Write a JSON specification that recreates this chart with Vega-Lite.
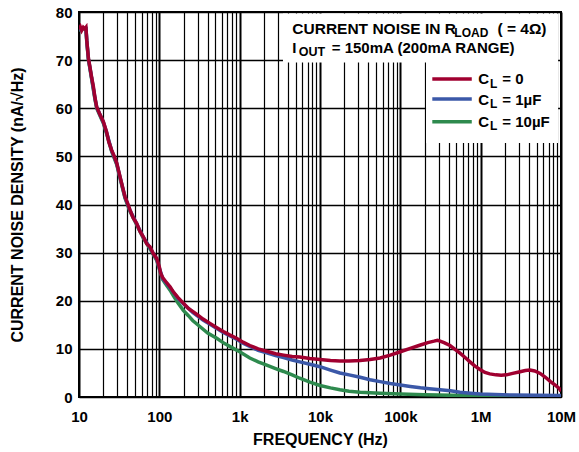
{
  "$schema": "https://vega.github.io/schema/vega-lite/v6.json",
  "width": 482,
  "height": 385,
  "autosize": {"type": "none"},
  "padding": {"left": 79, "top": 12, "right": 18, "bottom": 55},
  "background": "white",
  "config": {
    "view": {"stroke": "black", "strokeWidth": 2},
    "font": "Liberation Sans",
    "text": {"font": "Liberation Sans", "fontWeight": "bold", "color": "black"},
    "axis": {"labelFont": "Liberation Sans", "titleFont": "Liberation Sans", "labelFontWeight": "bold", "titleFontWeight": "bold", "labelColor": "black", "titleColor": "black"}
  },
  "data": {
    "values": [
      {"series": "10uF", "f": 10, "v": 76.2}, {"series": "10uF", "f": 11.3, "v": 76.5}, {"series": "10uF", "f": 12.2, "v": 76.5}, {"series": "10uF", "f": 12.5, "v": 73.8},
      {"series": "10uF", "f": 13.1, "v": 70.1}, {"series": "10uF", "f": 14.4, "v": 66.0}, {"series": "10uF", "f": 15.8, "v": 61.9}, {"series": "10uF", "f": 16.6, "v": 60.0},
      {"series": "10uF", "f": 20.1, "v": 56.9}, {"series": "10uF", "f": 22.1, "v": 54.7}, {"series": "10uF", "f": 25.5, "v": 51.0}, {"series": "10uF", "f": 29.5, "v": 48.3},
      {"series": "10uF", "f": 32.4, "v": 45.5}, {"series": "10uF", "f": 37.4, "v": 41.3}, {"series": "10uF", "f": 43.1, "v": 38.6}, {"series": "10uF", "f": 52.2, "v": 35.8},
      {"series": "10uF", "f": 63.2, "v": 33.0}, {"series": "10uF", "f": 76.5, "v": 30.8}, {"series": "10uF", "f": 92.7, "v": 28.4}, {"series": "10uF", "f": 100, "v": 26.6},
      {"series": "10uF", "f": 110, "v": 24.4}, {"series": "10uF", "f": 120, "v": 23.5}, {"series": "10uF", "f": 136, "v": 22.2}, {"series": "10uF", "f": 150, "v": 21.0},
      {"series": "10uF", "f": 170, "v": 19.6}, {"series": "10uF", "f": 199, "v": 18.0}, {"series": "10uF", "f": 230, "v": 16.9}, {"series": "10uF", "f": 260, "v": 15.9},
      {"series": "10uF", "f": 322, "v": 14.6}, {"series": "10uF", "f": 400, "v": 13.3}, {"series": "10uF", "f": 518, "v": 12.2}, {"series": "10uF", "f": 650, "v": 11.1},
      {"series": "10uF", "f": 833, "v": 10.1}, {"series": "10uF", "f": 1000, "v": 9.4}, {"series": "10uF", "f": 1338, "v": 8.1}, {"series": "10uF", "f": 1700, "v": 7.3},
      {"series": "10uF", "f": 2170, "v": 6.6}, {"series": "10uF", "f": 2800, "v": 5.9}, {"series": "10uF", "f": 3520, "v": 5.3}, {"series": "10uF", "f": 4500, "v": 4.6},
      {"series": "10uF", "f": 5600, "v": 3.9}, {"series": "10uF", "f": 7500, "v": 3.1}, {"series": "10uF", "f": 10000, "v": 2.4}, {"series": "10uF", "f": 13500, "v": 1.9},
      {"series": "10uF", "f": 17700, "v": 1.5}, {"series": "10uF", "f": 23000, "v": 1.2}, {"series": "10uF", "f": 31600, "v": 1.0}, {"series": "10uF", "f": 56000, "v": 0.8},
      {"series": "10uF", "f": 100000, "v": 0.6}, {"series": "10uF", "f": 200000, "v": 0.45}, {"series": "10uF", "f": 430000, "v": 0.35}, {"series": "10uF", "f": 1000000, "v": 0.25},
      {"series": "10uF", "f": 3000000, "v": 0.2}, {"series": "10uF", "f": 10000000, "v": 0.2},

      {"series": "1uF", "f": 10, "v": 76.3}, {"series": "1uF", "f": 11.3, "v": 76.6}, {"series": "1uF", "f": 12.2, "v": 76.6}, {"series": "1uF", "f": 12.5, "v": 74.0},
      {"series": "1uF", "f": 13.1, "v": 70.3}, {"series": "1uF", "f": 14.4, "v": 66.2}, {"series": "1uF", "f": 15.8, "v": 62.1}, {"series": "1uF", "f": 16.6, "v": 60.2},
      {"series": "1uF", "f": 20.1, "v": 57.1}, {"series": "1uF", "f": 22.1, "v": 54.9}, {"series": "1uF", "f": 25.5, "v": 51.2}, {"series": "1uF", "f": 29.5, "v": 48.5},
      {"series": "1uF", "f": 32.4, "v": 45.7}, {"series": "1uF", "f": 37.4, "v": 41.5}, {"series": "1uF", "f": 43.1, "v": 38.8}, {"series": "1uF", "f": 52.2, "v": 36.0},
      {"series": "1uF", "f": 63.2, "v": 33.2}, {"series": "1uF", "f": 76.5, "v": 31.0}, {"series": "1uF", "f": 92.7, "v": 28.6}, {"series": "1uF", "f": 100, "v": 26.8},
      {"series": "1uF", "f": 110, "v": 24.6}, {"series": "1uF", "f": 136, "v": 22.7}, {"series": "1uF", "f": 170, "v": 20.5}, {"series": "1uF", "f": 199, "v": 19.4},
      {"series": "1uF", "f": 260, "v": 17.6}, {"series": "1uF", "f": 350, "v": 16.0}, {"series": "1uF", "f": 427, "v": 15.1}, {"series": "1uF", "f": 625, "v": 13.4},
      {"series": "1uF", "f": 914, "v": 12.0}, {"series": "1uF", "f": 1100, "v": 11.2}, {"series": "1uF", "f": 1338, "v": 10.5}, {"series": "1uF", "f": 1700, "v": 9.7},
      {"series": "1uF", "f": 2170, "v": 9.2}, {"series": "1uF", "f": 2800, "v": 8.6}, {"series": "1uF", "f": 3520, "v": 8.2}, {"series": "1uF", "f": 4500, "v": 7.7},
      {"series": "1uF", "f": 5600, "v": 7.3}, {"series": "1uF", "f": 7500, "v": 6.8}, {"series": "1uF", "f": 10000, "v": 6.3}, {"series": "1uF", "f": 13500, "v": 5.6},
      {"series": "1uF", "f": 17700, "v": 5.0}, {"series": "1uF", "f": 23000, "v": 4.6}, {"series": "1uF", "f": 31600, "v": 4.1}, {"series": "1uF", "f": 42000, "v": 3.6},
      {"series": "1uF", "f": 56000, "v": 3.2}, {"series": "1uF", "f": 75000, "v": 2.8}, {"series": "1uF", "f": 100000, "v": 2.5}, {"series": "1uF", "f": 133000, "v": 2.2},
      {"series": "1uF", "f": 178000, "v": 1.9}, {"series": "1uF", "f": 230000, "v": 1.7}, {"series": "1uF", "f": 312000, "v": 1.5}, {"series": "1uF", "f": 420000, "v": 1.3},
      {"series": "1uF", "f": 553000, "v": 1.0}, {"series": "1uF", "f": 750000, "v": 0.8}, {"series": "1uF", "f": 980000, "v": 0.6}, {"series": "1uF", "f": 1500000, "v": 0.5},
      {"series": "1uF", "f": 2500000, "v": 0.4}, {"series": "1uF", "f": 5000000, "v": 0.35}, {"series": "1uF", "f": 10000000, "v": 0.3},

      {"series": "0", "f": 10, "v": 76.4}, {"series": "0", "f": 10.4, "v": 76.9}, {"series": "0", "f": 10.8, "v": 76.2}, {"series": "0", "f": 11.3, "v": 76.8},
      {"series": "0", "f": 11.8, "v": 76.5}, {"series": "0", "f": 12.2, "v": 76.8}, {"series": "0", "f": 12.5, "v": 74.1}, {"series": "0", "f": 13.1, "v": 70.4},
      {"series": "0", "f": 13.7, "v": 68.5}, {"series": "0", "f": 14.4, "v": 66.3}, {"series": "0", "f": 15.1, "v": 64.5}, {"series": "0", "f": 15.8, "v": 62.2},
      {"series": "0", "f": 16.6, "v": 60.3}, {"series": "0", "f": 18, "v": 58.9}, {"series": "0", "f": 20.1, "v": 57.2}, {"series": "0", "f": 22.1, "v": 55.0},
      {"series": "0", "f": 23.5, "v": 53.0}, {"series": "0", "f": 25.5, "v": 51.3}, {"series": "0", "f": 27.5, "v": 50.0}, {"series": "0", "f": 29.5, "v": 48.6},
      {"series": "0", "f": 32.4, "v": 45.8}, {"series": "0", "f": 35, "v": 43.5}, {"series": "0", "f": 37.4, "v": 41.6}, {"series": "0", "f": 40, "v": 40.4},
      {"series": "0", "f": 43.1, "v": 38.9}, {"series": "0", "f": 47, "v": 37.3}, {"series": "0", "f": 52.2, "v": 36.1}, {"series": "0", "f": 57, "v": 34.5},
      {"series": "0", "f": 63.2, "v": 33.3}, {"series": "0", "f": 70, "v": 31.8}, {"series": "0", "f": 76.5, "v": 31.2}, {"series": "0", "f": 84, "v": 29.8},
      {"series": "0", "f": 92.7, "v": 28.8}, {"series": "0", "f": 100, "v": 27.0}, {"series": "0", "f": 104, "v": 25.7}, {"series": "0", "f": 110, "v": 24.8},
      {"series": "0", "f": 120, "v": 24.0}, {"series": "0", "f": 136, "v": 22.9}, {"series": "0", "f": 150, "v": 21.8}, {"series": "0", "f": 170, "v": 20.7},
      {"series": "0", "f": 199, "v": 19.5}, {"series": "0", "f": 230, "v": 18.4}, {"series": "0", "f": 260, "v": 17.8}, {"series": "0", "f": 291, "v": 17.2},
      {"series": "0", "f": 350, "v": 16.2}, {"series": "0", "f": 427, "v": 15.3}, {"series": "0", "f": 520, "v": 14.4}, {"series": "0", "f": 625, "v": 13.6},
      {"series": "0", "f": 750, "v": 12.9}, {"series": "0", "f": 914, "v": 12.2}, {"series": "0", "f": 1100, "v": 11.4}, {"series": "0", "f": 1338, "v": 10.7},
      {"series": "0", "f": 1700, "v": 10.0}, {"series": "0", "f": 2170, "v": 9.5}, {"series": "0", "f": 2800, "v": 9.0}, {"series": "0", "f": 3520, "v": 8.7},
      {"series": "0", "f": 4500, "v": 8.4}, {"series": "0", "f": 5600, "v": 8.3}, {"series": "0", "f": 7500, "v": 8.0}, {"series": "0", "f": 10000, "v": 7.8},
      {"series": "0", "f": 13500, "v": 7.6}, {"series": "0", "f": 17700, "v": 7.5}, {"series": "0", "f": 23000, "v": 7.5}, {"series": "0", "f": 31600, "v": 7.6},
      {"series": "0", "f": 42000, "v": 7.8}, {"series": "0", "f": 56000, "v": 8.1}, {"series": "0", "f": 75000, "v": 8.7}, {"series": "0", "f": 100000, "v": 9.4},
      {"series": "0", "f": 133000, "v": 10.1}, {"series": "0", "f": 178000, "v": 10.8}, {"series": "0", "f": 220000, "v": 11.3}, {"series": "0", "f": 262000, "v": 11.6},
      {"series": "0", "f": 290000, "v": 11.8}, {"series": "0", "f": 312000, "v": 11.6}, {"series": "0", "f": 350000, "v": 11.3}, {"series": "0", "f": 415000, "v": 10.7},
      {"series": "0", "f": 480000, "v": 9.9}, {"series": "0", "f": 553000, "v": 9.1}, {"series": "0", "f": 640000, "v": 8.2}, {"series": "0", "f": 736000, "v": 7.3},
      {"series": "0", "f": 850000, "v": 6.4}, {"series": "0", "f": 980000, "v": 5.7}, {"series": "0", "f": 1130000, "v": 5.1}, {"series": "0", "f": 1300000, "v": 4.8},
      {"series": "0", "f": 1550000, "v": 4.6}, {"series": "0", "f": 1800000, "v": 4.5}, {"series": "0", "f": 2100000, "v": 4.6}, {"series": "0", "f": 2500000, "v": 4.9},
      {"series": "0", "f": 3000000, "v": 5.2}, {"series": "0", "f": 3600000, "v": 5.5}, {"series": "0", "f": 4100000, "v": 5.6}, {"series": "0", "f": 4700000, "v": 5.4},
      {"series": "0", "f": 5500000, "v": 4.9}, {"series": "0", "f": 6400000, "v": 4.1}, {"series": "0", "f": 7400000, "v": 3.2}, {"series": "0", "f": 8400000, "v": 2.5},
      {"series": "0", "f": 9500000, "v": 1.8}, {"series": "0", "f": 10000000, "v": 1.2}
    ]
  },
  "layer": [
    {
      "transform": [{"filter": "datum.series == '10uF'"}],
      "mark": {"type": "line", "color": "#2e8a4e", "strokeWidth": 3.5, "clip": true},
      "encoding": {
        "x": {
          "field": "f", "type": "quantitative",
          "scale": {"type": "log", "domain": [10, 10000000], "nice": false},
          "axis": {
            "title": "FREQUENCY (Hz)",
            "values": [10,20,30,40,50,60,70,80,90,100,200,300,400,500,600,700,800,900,1000,2000,3000,4000,5000,6000,7000,8000,9000,10000,20000,30000,40000,50000,60000,70000,80000,90000,100000,200000,300000,400000,500000,600000,700000,800000,900000,1000000,2000000,3000000,4000000,5000000,6000000,7000000,8000000,9000000,10000000],
            "labelExpr": "datum.value == 10 ? '10' : datum.value == 100 ? '100' : datum.value == 1000 ? '1k' : datum.value == 10000 ? '10k' : datum.value == 100000 ? '100k' : datum.value == 1000000 ? '1M' : datum.value == 10000000 ? '10M' : ''",
            "labelOverlap": false, "labelFlush": false, "labelBound": false,
            "grid": true, "gridColor": "black", "gridOpacity": 1,
            "gridWidth": {"condition": {"test": "indexof([10,100,1000,10000,100000,1000000,10000000], datum.value) >= 0", "value": 2}, "value": 1.2},
            "domain": false, "ticks": false, "tickSize": 0,
            "labelFontSize": 15, "labelBaseline": "alphabetic", "labelPadding": 24,
            "titleFontSize": 16, "titleY": 47, "titleBaseline": "alphabetic"
          }
        },
        "y": {
          "field": "v", "type": "quantitative",
          "scale": {"domain": [0, 80], "nice": false},
          "axis": {
            "title": "CURRENT NOISE DENSITY (nA/√Hz)",
            "values": [0,10,20,30,40,50,60,70,80],
            "grid": true, "gridColor": "black", "gridOpacity": 1, "gridWidth": 1.3,
            "domain": false, "ticks": false, "tickSize": 0,
            "labelFontSize": 15, "labelPadding": 7, "labelBaseline": "middle",
            "titleFontSize": 16, "titleX": -62, "titleY": 192.5, "titleAngle": -90, "titleBaseline": "middle", "titleAlign": "center"
          }
        }
      }
    },
    {
      "transform": [{"filter": "datum.series == '1uF'"}],
      "mark": {"type": "line", "color": "#3b58a8", "strokeWidth": 3.5, "clip": true},
      "encoding": {"x": {"field": "f", "type": "quantitative"}, "y": {"field": "v", "type": "quantitative"}}
    },
    {
      "transform": [{"filter": "datum.series == '0'"}],
      "mark": {"type": "line", "color": "#a00030", "strokeWidth": 3.5, "clip": true},
      "encoding": {"x": {"field": "f", "type": "quantitative"}, "y": {"field": "v", "type": "quantitative"}}
    },
    {
      "data": {"values": [{}]},
      "mark": {"type": "rect", "fill": "white", "stroke": null},
      "encoding": {"x": {"datum": 3460}, "x2": {"datum": 9200000}, "y": {"datum": 79.7}, "y2": {"datum": 69.5}}
    },
    {
      "data": {"values": [{}]},
      "mark": {"type": "rect", "fill": "white", "stroke": null},
      "encoding": {"x": {"datum": 209000}, "x2": {"datum": 9200000}, "y": {"datum": 69.6}, "y2": {"datum": 52.8}}
    },
    {
      "data": {"values": [{}]},
      "mark": {"type": "rule", "color": "#a00030", "strokeWidth": 3.5},
      "encoding": {"x": {"datum": 250000}, "x2": {"datum": 775000}, "y": {"datum": 66.1}}
    },
    {
      "data": {"values": [{}]},
      "mark": {"type": "rule", "color": "#3b58a8", "strokeWidth": 3.5},
      "encoding": {"x": {"datum": 250000}, "x2": {"datum": 775000}, "y": {"datum": 61.9}}
    },
    {
      "data": {"values": [{}]},
      "mark": {"type": "rule", "color": "#2e8a4e", "strokeWidth": 3.5},
      "encoding": {"x": {"datum": 250000}, "x2": {"datum": 775000}, "y": {"datum": 57.2}}
    },
    {
      "data": {"values": [{}]},
      "mark": {"type": "text", "text": "C", "fontSize": 15, "align": "left", "baseline": "alphabetic"},
      "encoding": {"x": {"datum": 935000}, "y": {"datum": 65.0}}
    },
    {
      "data": {"values": [{}]},
      "mark": {"type": "text", "text": "L", "fontSize": 12, "align": "left", "baseline": "alphabetic"},
      "encoding": {"x": {"datum": 1306000}, "y": {"datum": 64.25}}
    },
    {
      "data": {"values": [{}]},
      "mark": {"type": "text", "text": "= 0", "fontSize": 15, "align": "left", "baseline": "alphabetic"},
      "encoding": {"x": {"datum": 1860000}, "y": {"datum": 65.0}}
    },
    {
      "data": {"values": [{}]},
      "mark": {"type": "text", "text": "C", "fontSize": 15, "align": "left", "baseline": "alphabetic"},
      "encoding": {"x": {"datum": 935000}, "y": {"datum": 60.7}}
    },
    {
      "data": {"values": [{}]},
      "mark": {"type": "text", "text": "L", "fontSize": 12, "align": "left", "baseline": "alphabetic"},
      "encoding": {"x": {"datum": 1306000}, "y": {"datum": 59.95}}
    },
    {
      "data": {"values": [{}]},
      "mark": {"type": "text", "text": "= 1µF", "fontSize": 15, "align": "left", "baseline": "alphabetic"},
      "encoding": {"x": {"datum": 1860000}, "y": {"datum": 60.7}}
    },
    {
      "data": {"values": [{}]},
      "mark": {"type": "text", "text": "C", "fontSize": 15, "align": "left", "baseline": "alphabetic"},
      "encoding": {"x": {"datum": 935000}, "y": {"datum": 56.1}}
    },
    {
      "data": {"values": [{}]},
      "mark": {"type": "text", "text": "L", "fontSize": 12, "align": "left", "baseline": "alphabetic"},
      "encoding": {"x": {"datum": 1306000}, "y": {"datum": 55.4}}
    },
    {
      "data": {"values": [{}]},
      "mark": {"type": "text", "text": "= 10µF", "fontSize": 15, "align": "left", "baseline": "alphabetic"},
      "encoding": {"x": {"datum": 1860000}, "y": {"datum": 56.1}}
    },
    {
      "data": {"values": [{}]},
      "mark": {"type": "text", "text": "CURRENT NOISE IN R", "fontSize": 15.5, "align": "left", "baseline": "alphabetic"},
      "encoding": {"x": {"datum": 4520}, "y": {"datum": 75.4}}
    },
    {
      "data": {"values": [{}]},
      "mark": {"type": "text", "text": "LOAD", "fontSize": 12, "align": "left", "baseline": "alphabetic"},
      "encoding": {"x": {"datum": 470000}, "y": {"datum": 74.9}}
    },
    {
      "data": {"values": [{}]},
      "mark": {"type": "text", "text": "( = 4Ω)", "fontSize": 15.5, "align": "left", "baseline": "alphabetic"},
      "encoding": {"x": {"datum": 1620000}, "y": {"datum": 75.4}}
    },
    {
      "data": {"values": [{}]},
      "mark": {"type": "text", "text": "I", "fontSize": 15, "align": "left", "baseline": "alphabetic"},
      "encoding": {"x": {"datum": 4520}, "y": {"datum": 71.45}}
    },
    {
      "data": {"values": [{}]},
      "mark": {"type": "text", "text": "OUT", "fontSize": 12.5, "align": "left", "baseline": "alphabetic"},
      "encoding": {"x": {"datum": 5450}, "y": {"datum": 70.85}}
    },
    {
      "data": {"values": [{}]},
      "mark": {"type": "text", "text": "= 150mA (200mA RANGE)", "fontSize": 15, "align": "left", "baseline": "alphabetic"},
      "encoding": {"x": {"datum": 14000}, "y": {"datum": 71.45}}
    }
  ]
}
